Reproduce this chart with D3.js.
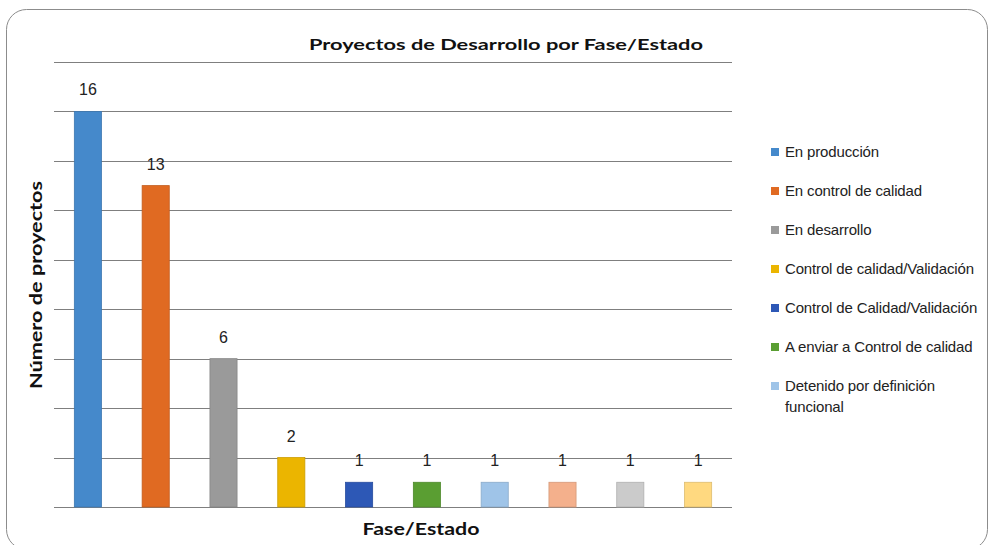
<!DOCTYPE html>
<html><head><meta charset="utf-8">
<script src="https://cdn.jsdelivr.net/npm/d3@7"></script>
<style>body{margin:0;background:#fff}svg{display:block}</style>
</head><body>
<svg id="c" width="994" height="545"></svg>
<script>
const categories = ["En producción","En control de calidad","En desarrollo","Control de calidad/Validación","Control de Calidad/Validación","A enviar a Control de calidad","Detenido por definición funcional","Cat 8","Cat 9","Cat 10"];
const values = [16,13,6,2,1,1,1,1,1,1];
const colors = ["#4589cb","#e06a22","#9a9a9a","#ebb500","#2d58b6","#5a9e32","#9fc4e8","#f4b08c","#cbcbcb","#ffd980"];
const legendCount = 7;
const yTicks = [0,2,4,6,8,10,12,14,16,18];

const svg = d3.select("#c");
svg.append("rect").attr("x",6.5).attr("y",9.5).attr("width",981).attr("height",540)
  .attr("rx",20).attr("fill","#fff").attr("stroke","#8c8c8c").attr("stroke-width",1);

const x = d3.scaleBand().domain(categories).range([54,732]).paddingInner(0.6).paddingOuter(0.3);
const y = d3.scaleLinear().domain([0,18]).range([507,62]);

svg.append("g").selectAll("line").data(yTicks).join("line")
  .attr("x1",54).attr("x2",732).attr("y1",d=>Math.round(y(d))+0.5).attr("y2",d=>Math.round(y(d))+0.5)
  .attr("stroke","#7f7f7f").attr("stroke-width",1.2);

svg.append("g").selectAll("rect").data(values).join("rect")
  .attr("x",(d,i)=>x(categories[i])).attr("width",x.bandwidth())
  .attr("y",d=>y(d)).attr("height",d=>y(0)-y(d))
  .attr("fill",(d,i)=>colors[i]).attr("stroke",(d,i)=>d3.color(colors[i]).darker(0.4)).attr("stroke-width",0.8);

svg.append("g").selectAll("text").data(values).join("text")
  .attr("x",(d,i)=>x(categories[i])+x.bandwidth()/2).attr("y",d=>y(d)-16)
  .attr("text-anchor","middle").attr("font-family","Liberation Sans, Arial, sans-serif")
  .attr("font-size",16).attr("fill","#222").text(d=>d);

svg.append("text").attr("x",506).attr("y",50).attr("text-anchor","middle")
  .attr("font-family","Lato, sans-serif").attr("font-weight","bold").attr("font-size",16)
  .attr("fill","#111").attr("textLength",394).attr("lengthAdjust","spacingAndGlyphs")
  .text("Proyectos de Desarrollo por Fase/Estado");

svg.append("text").attr("transform","translate(42,285) rotate(-90)").attr("text-anchor","middle")
  .attr("font-family","Lato, sans-serif").attr("font-weight","bold").attr("font-size",17)
  .attr("fill","#111").attr("textLength",208).attr("lengthAdjust","spacingAndGlyphs")
  .text("Número de proyectos");

svg.append("text").attr("x",421).attr("y",535).attr("text-anchor","middle")
  .attr("font-family","Lato, sans-serif").attr("font-weight","bold").attr("font-size",17)
  .attr("fill","#111").attr("textLength",117).attr("lengthAdjust","spacingAndGlyphs")
  .text("Fase/Estado");

const lg = svg.append("g");
const items = categories.slice(0,legendCount);
items.forEach((name,i)=>{
  const yy = 152 + i*39;
  lg.append("rect").attr("x",771).attr("y",yy-4).attr("width",8).attr("height",8).attr("fill",colors[i]);
  const t = lg.append("text").attr("x",785).attr("y",yy+5).attr("font-family","Liberation Sans, Arial, sans-serif")
    .attr("font-size",15).attr("fill","#222").attr("letter-spacing","-0.15");
  if (name === "Detenido por definición funcional") {
    t.append("tspan").attr("x",785).text("Detenido por definición");
    t.append("tspan").attr("x",785).attr("dy",21).text("funcional");
  } else t.text(name);
});
</script>
</body></html>
